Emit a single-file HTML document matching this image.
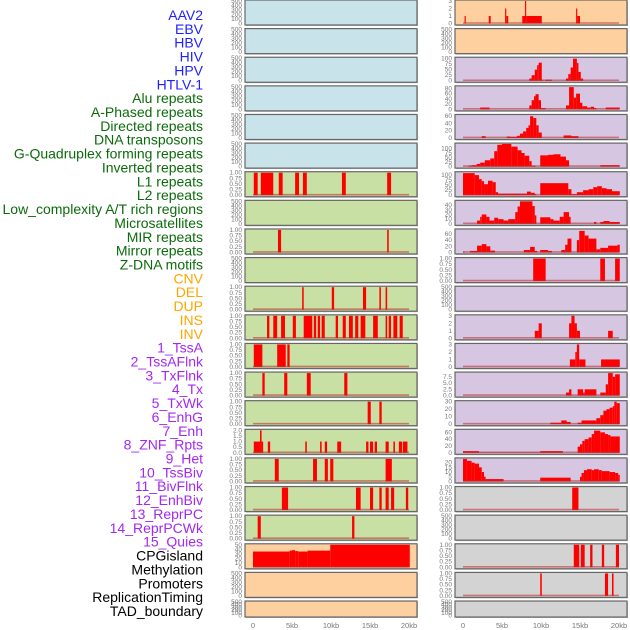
<!DOCTYPE html>
<html><head><meta charset="utf-8"><style>
html,body{margin:0;padding:0;background:#fff;width:630px;height:630px;overflow:hidden}
svg{display:block;font-family:"Liberation Sans",sans-serif}
</style></head><body>
<svg id="chart" width="630" height="630" viewBox="0 0 630 630"></svg>
<script>
// ---- data ----
const labels=["AAV2","EBV","HBV","HIV","HPV","HTLV-1","Alu repeats","A-Phased repeats","Directed repeats","DNA transposons","G-Quadruplex forming repeats","Inverted repeats","L1 repeats","L2 repeats","Low_complexity A/T rich regions","Microsatellites","MIR repeats","Mirror repeats","Z-DNA motifs","CNV","DEL","DUP","INS","INV","1_TssA","2_TssAFlnk","3_TxFlnk","4_Tx","5_TxWk","6_EnhG","7_Enh","8_ZNF_Rpts","9_Het","10_TssBiv","11_BivFlnk","12_EnhBiv","13_ReprPC","14_ReprPCWk","15_Quies","CPGisland","Methylation","Promoters","ReplicationTiming","TAD_boundary"];
const labelGroups=[6,13,5,15,5];
const groupColors=["#1f1fff","#0b6b0b","#ffa500","#a328f0","#000000"];
const xTicks=[0,5,10,15,20];
const xTickLabels=["0","5kb","10kb","15kb","20kb"];

const T500=[0,100,200,300,400,500];
const T1=[0,0.25,0.5,0.75,1];
const leftBg=["#c8e3ea","#c8e3ea","#c8e3ea","#c8e3ea","#c8e3ea","#c8e3ea","#c8e0a4","#c8e0a4","#c8e0a4","#c8e0a4","#c8e0a4","#c8e0a4","#c8e0a4","#c8e0a4","#c8e0a4","#c8e0a4","#c8e0a4","#c8e0a4","#c8e0a4","#ffd09f","#ffd09f","#ffd09f"];
const rightBg=["#ffd09f","#ffd09f","#d6c6e2","#d6c6e2","#d6c6e2","#d6c6e2","#d6c6e2","#d6c6e2","#d6c6e2","#d6c6e2","#d6c6e2","#d6c6e2","#d6c6e2","#d6c6e2","#d6c6e2","#d6c6e2","#d6c6e2","#d3d3d3","#d3d3d3","#d3d3d3","#d3d3d3","#d3d3d3"];
const leftTicks=[T500,T500,T500,T500,T500,T500,T1,T500,T1,T500,T1,T1,T1,T1,T1,[0,0.5,1,1.5,2],T1,T1,T1,[0,10,20,30,40,50],T500,T500];
const leftTickLabels=leftTicks.map(t=>t===T1?["0.00","0.25","0.50","0.75","1.00"]:t.map(v=>String(v)));
leftTickLabels[15]=["0.0","0.5","1.0","1.5","2.0"];
const rightTicks=[[0,1,2,3],T500,[0,25,50,75,100],[0,20,40,60,80],[0,20,40,60],[0,25,50,75,100],[0,25,50,75,100],[0,10,20,30,40],[0,20,40,60],T1,T500,[0,1,2,3],[0,1,2,3],[0,2.5,5,7.5],[0,10,20,30],[0,20,40,60],[0,5,10,15,20],T1,T500,T1,T1,T500];
const rightTickLabels=rightTicks.map(t=>t===T1?["0.00","0.25","0.50","0.75","1.00"]:t.map(v=>String(v)));
rightTickLabels[13]=["0.0","2.5","5.0","7.5"];
const leftMax=[500,500,500,500,500,500,1,500,1,500,1,1,1,1,1,2,1,1,1,50,500,500];
const rightMax=[3,500,102,86,62,124,112,48,73,1,500,3,3,9,30,66,24,1,500,1,1,500];

// segments: [startKb, endKb, value]
const L7=[[0.1,0.6,1],[1.0,2.6,1],[3.3,3.8,1],[5.4,5.9,1],[6.4,6.9,1],[11.4,11.9,1],[17.2,17.7,1]];
const L9=[[3.2,3.6,1],[17.2,17.4,1]];
const L11=[[6.3,6.5,1],[10.1,10.4,1],[14.1,14.5,1],[16.2,16.4,1],[17.0,17.2,1]];
const L12=[[1.8,2.1,1],[2.6,3.1,1],[3.6,4.1,1],[5.1,5.5,1],[6.5,7.6,1],[7.8,8.1,1],[8.3,8.6,1],[8.8,9.2,1],[10.6,10.9,1],[11.5,11.9,1],[12.3,12.8,1],[13.1,13.5,1],[13.8,14.4,1],[15.4,16.0,1],[17.0,17.2,1],[17.4,17.7,1],[18.0,18.5,1],[18.8,19.2,1]];
const L13=[[0.1,1.2,1],[3.1,4.2,1],[4.4,4.7,1]];
const L14=[[1.2,1.5,1],[4.0,4.4,1],[6.9,7.4,1],[11.7,12.1,1]];
const L15=[[14.7,15.1,1],[16.2,16.5,1]];
const L16=[[0.1,0.9,1],[0.9,1.1,2],[1.1,1.3,1],[1.9,2.2,1],[6.7,6.9,1],[8.6,8.8,1],[9.2,9.5,1],[10.8,11.3,1],[14.5,14.8,1],[15.0,15.4,1],[15.6,15.9,1],[17.0,17.4,1],[18.0,18.2,1],[18.7,19.1,1],[19.2,19.8,1]];
const L17=[[2.8,3.3,1],[7.7,8.2,1],[9.2,9.6,1],[9.9,10.3,1],[17.0,17.8,1]];
const L18=[[3.7,4.5,1],[13.2,13.8,1],[15.0,15.4,1],[16.2,16.5,1],[17.0,17.4,1],[17.7,18.1,1],[19.6,19.9,1]];
const L19=[[0.6,1.0,1],[12.7,13.0,1]];
const L20=[[0,4.7,35],[4.7,5.0,37],[5.0,5.4,38],[5.4,5.8,36],[5.8,7.0,35],[7.0,9.9,37],[9.9,20.1,50]];
const R1=[[0.2,0.35,1],[3.3,3.55,1],[5.4,5.55,2],[5.55,5.8,1],[7.6,7.95,1],[7.95,8.1,3],[8.1,10.1,1],[14.5,14.65,2],[14.65,15.0,1]];
const R3=[[8.5,8.8,10],[8.8,9.2,25],[9.2,9.5,50],[9.5,9.7,70],[9.7,10.1,82],[10.1,10.3,5],[10.5,11.4,5],[13.2,13.5,10],[13.5,13.8,30],[13.8,14.1,60],[14.1,14.6,100],[14.6,14.8,80],[14.8,15.1,40],[15.1,15.4,10]];
const R4=[[2.2,3.4,7],[8.5,8.8,15],[8.8,9.1,35],[9.1,9.3,50],[9.3,9.7,58],[9.7,10.0,35],[10.0,10.6,5],[13.2,13.6,15],[13.6,14.2,85],[14.2,14.5,45],[14.5,15.0,60],[15.0,15.3,25],[15.3,15.9,12],[15.9,16.4,7],[16.4,16.8,10],[16.8,17.1,5],[18.3,20.1,7]];
const R5=[[2.4,2.9,5],[5.6,6.1,4],[6.1,6.9,3],[6.9,7.3,6],[7.3,7.7,12],[7.7,8.1,18],[8.1,8.4,28],[8.4,8.6,35],[8.6,9.0,60],[9.0,9.4,55],[9.4,9.7,35],[9.7,10.1,15],[12.9,13.9,7],[13.9,14.8,5]];
const R6=[[0.7,1.1,5],[1.1,1.75,8],[1.75,2.2,15],[2.2,2.8,22],[2.8,3.5,35],[3.5,4.0,45],[4.0,4.4,85],[4.4,5.0,120],[5.0,6.2,125],[6.2,7.0,110],[7.0,7.5,90],[7.5,7.9,75],[7.9,8.5,60],[8.5,8.8,30],[8.8,9.3,5],[9.9,10.9,62],[10.9,11.6,65],[11.6,12.5,68],[12.5,13.2,55],[13.2,13.6,35],[17.6,20.1,8]];
const R7=[[0,1.5,110],[1.5,2.05,100],[2.05,2.4,80],[2.4,2.7,70],[2.7,3.2,55],[3.2,3.8,72],[3.8,4.2,65],[4.2,4.5,15],[4.5,8.2,8],[8.2,8.7,18],[8.7,9.2,12],[9.2,9.4,5],[9.9,13.5,60],[13.5,13.9,30],[13.9,14.6,5],[14.6,15.4,15],[15.4,16.1,25],[16.1,16.7,30],[16.7,17.2,40],[17.2,17.8,45],[17.8,18.4,35],[18.4,19.1,30],[19.1,20.1,20]];
const R8=[[1.8,2.2,7],[2.2,2.4,15],[2.4,3.0,20],[3.0,3.4,15],[3.4,4.0,7],[4.0,4.5,13],[4.5,5.2,10],[5.2,5.8,7],[5.8,6.7,10],[6.7,7.0,25],[7.0,7.3,37],[7.3,8.9,48],[8.9,9.2,38],[9.2,9.4,18],[9.9,11.2,14],[11.2,11.6,10],[11.6,12.4,7],[12.4,12.9,15],[12.9,13.6,25],[13.6,13.8,15],[16.8,17.1,4],[17.6,18.0,4],[18.0,18.8,6],[18.8,20.1,4]];
const R9=[[0,0.2,3],[0.9,1.8,5],[1.8,2.4,22],[2.4,3.0,27],[3.0,3.5,20],[3.5,4.1,6],[7.8,8.6,8],[8.6,9.2,18],[9.2,9.5,5],[9.9,10.9,8],[10.9,11.4,5],[12.6,13.1,8],[13.1,13.4,25],[13.4,13.9,45],[14.6,14.9,40],[14.9,15.6,70],[15.6,16.1,55],[16.1,17.1,45],[17.1,17.6,10],[17.6,18.6,15],[18.6,19.8,22],[19.8,20.1,25]];
const R10=[[9.0,10.6,1],[17.6,18.2,1],[19.5,20.1,1]];
const R12=[[9.2,9.7,1],[9.7,10.1,2],[13.6,13.9,2],[13.9,14.3,3],[14.3,14.6,2],[14.6,15.0,1],[18.6,19.2,1]];
const R13=[[13.7,14.4,1],[14.4,14.6,2],[14.6,14.9,3],[14.9,15.7,1],[17.7,20.1,1]];
const R14=[[13.2,13.6,1.2],[13.6,13.9,2.5],[14.7,15.4,2.5],[15.4,15.6,1.2],[15.6,17.1,2.5],[17.6,18.3,1.2],[18.3,18.6,4.5],[18.6,19.2,9],[19.2,19.5,7.5],[19.5,20.1,8.5]];
const R15=[[11.2,12.6,2],[12.6,13.3,5],[13.3,13.8,3],[14.7,15.2,2],[15.2,17.1,5],[17.1,17.6,8],[17.6,18.0,12],[18.0,18.4,18],[18.4,18.8,20],[18.8,19.2,22],[19.2,19.4,24],[19.4,19.7,30],[19.7,20.1,28]];
const R16=[[0,2.05,5],[2.05,9.9,1],[9.9,12.8,5],[14.7,15.0,18],[15.0,15.3,25],[15.3,15.6,35],[15.6,16.1,40],[16.1,16.5,45],[16.5,16.8,55],[16.8,17.6,65],[17.6,18.2,60],[18.2,18.6,55],[18.6,18.9,52],[18.9,20.1,48]];
const R17=[[0,0.5,24],[0.5,1.1,22],[1.1,1.5,20],[1.5,2.05,19],[2.05,2.4,15],[2.4,2.7,10],[2.7,2.9,5],[2.9,5.2,2.5],[9.9,13.8,4],[15.0,15.2,5],[15.2,15.5,9],[15.5,15.9,12],[15.9,16.5,13],[16.5,16.8,12],[16.8,17.4,13],[17.4,17.8,12],[17.8,18.8,11],[18.8,19.5,10],[19.5,19.9,9],[19.9,20.1,7]];
const R18=[[14.0,14.8,1]];
const R20=[[14.2,14.9,1],[15.1,15.6,1],[16.3,16.6,1],[17.8,18.1,1],[19.6,20.0,1]];
const R21=[[9.9,10.1,1],[18.2,18.6,1],[19.1,19.3,1]];
const leftData=[null,null,null,null,null,null,L7,null,L9,null,L11,L12,L13,L14,L15,L16,L17,L18,L19,L20,null,null];
const rightData=[R1,null,R3,R4,R5,R6,R7,R8,R9,R10,null,R12,R13,R14,R15,R16,R17,R18,null,R20,R21,null];

// ---- drawing ----
const NS="http://www.w3.org/2000/svg";
const svg=document.getElementById('chart');
function mk(tag,attrs,parent){const e=document.createElementNS(NS,tag);for(const k in attrs)e.setAttribute(k,attrs[k]);(parent||svg).appendChild(e);return e;}

// labels
let li=0;
labelGroups.forEach((n,g)=>{for(let k=0;k<n;k++){
  const t=mk('text',{x:203,y:20+li*13.86,'text-anchor':'end','font-size':'14',fill:groupColors[g]});
  t.textContent=labels[li];
  
  
  li++;}});

const cols=[{x0:245,w:172,z:253,tx:242,bg:leftBg,ticks:leftTicks,tl:leftTickLabels,max:leftMax,data:leftData,name:'left'},
            {x0:455,w:172,z:463,tx:452,bg:rightBg,ticks:rightTicks,tl:rightTickLabels,max:rightMax,data:rightData,name:'right'}];
const kbScale=7.8;
for(let r=0;r<22;r++){
  const top=r*28.62, h=(r===21)?16:25;
  cols.forEach(c=>{
    const g=mk('g',{});
    
    
    mk('rect',{x:c.x0+1,y:top+1,width:c.w,height:h,fill:'#bbb'},g);
    mk('rect',{x:c.x0,y:top,width:c.w,height:h,fill:c.bg[r],stroke:'#666','stroke-width':1.2},g);
    const ymax=c.max[r];
    const y0=top+h-1.5, yh=h-2.5;
    const yS=v=>y0-(v/ymax)*yh;
    const xS=kb=>c.z+kb*kbScale;
    c.ticks[r].forEach((v,i)=>{
      const t=mk('text',{x:c.tx,y:yS(v)+2,'text-anchor':'end','font-size':'6.5',fill:'#777'},g);
      t.textContent=c.tl[r][i];
      
      
    });
    const d=c.data[r];
    if(d){
      d.forEach(s=>{
        const b=mk('rect',{x:xS(s[0]),y:yS(s[2]),width:Math.max(0.8,xS(s[1])-xS(s[0])),height:y0-yS(s[2]),fill:'#ff0000'},g);
        
        
      });
      const bl=mk('line',{x1:xS(0),x2:xS(20),y1:y0-0.5,y2:y0-0.5,stroke:'rgba(190,40,40,0.55)','stroke-width':1.6},g);
      
      
    }
  });
}
// x axes
cols.forEach(c=>{
  xTicks.forEach((v,i)=>{
    const t=mk('text',{x:c.z+v*kbScale,y:628,'text-anchor':'middle','font-size':'7.5',fill:'#777'});
    t.textContent=xTickLabels[i];
    
    
  });
});
</script>
</body></html>
